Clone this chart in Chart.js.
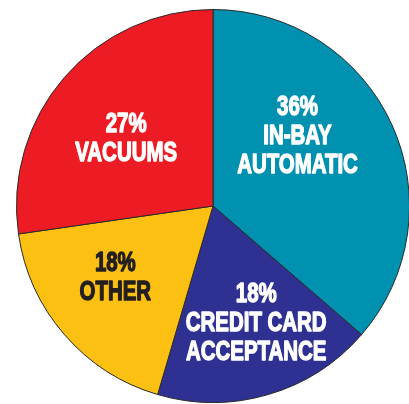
<!DOCTYPE html>
<html>
<head>
<meta charset="utf-8">
<script src="https://cdn.jsdelivr.net/npm/chart.js@4"></script>
<style>
  html, body { margin: 0; padding: 0; background: #fff; overflow: hidden; }
  body { width: 409px; height: 404px; position: relative; }
  #pieChart { position: absolute; left: 16px; top: 9px; }
</style>
</head>
<body>
<canvas id="pieChart" width="394" height="394"></canvas>
<script>
// share of revenue by service, percent
const categories = ['IN-BAY AUTOMATIC', 'CREDIT CARD ACCEPTANCE', 'OTHER', 'VACUUMS'];
const shares = [36, 18, 18, 27];
const sliceColors = ['#0090B0', '#2E3192', '#FCC012', '#ED1C24'];

// how each label is broken into lines, and its text colour
const labelLines = [['IN-BAY', 'AUTOMATIC'], ['CREDIT CARD', 'ACCEPTANCE'], ['OTHER'], ['VACUUMS']];
const labelColors = ['#ffffff', '#ffffff', '#231F20', '#ffffff'];
// label block centre, as a fraction of the radius from the pie centre
const labelSpots = [[0.43, -0.355], [0.22, 0.597], [-0.497, 0.367], [-0.442, -0.34]];

// squeeze the bold face sideways to get a condensed look
const squeeze = 0.73;

const sliceLabels = {
    id: 'sliceLabels',
    afterDatasetsDraw(chart) {
        const ctx = chart.ctx;
        const meta = chart.getDatasetMeta(0);
        meta.data.forEach(function (arc, i) {
            const r = arc.outerRadius;
            const cx = arc.x + labelSpots[i][0] * r;
            const cy = arc.y + labelSpots[i][1] * r;
            const lines = [shares[i] + '%'].concat(labelLines[i]);
            const lh = 29;
            const top = cy - (lines.length - 1) * lh / 2;
            ctx.save();
            ctx.translate(cx, 0);
            ctx.scale(squeeze, 1);
            ctx.textAlign = 'center';
            ctx.textBaseline = 'middle';
            ctx.font = 'bold 28px "Liberation Sans", Arial, sans-serif';
            ctx.fillStyle = labelColors[i];
            ctx.strokeStyle = labelColors[i];
            ctx.lineWidth = 1.4;
            ctx.lineJoin = 'round';
            lines.forEach(function (t, j) {
                ctx.fillText(t, 0, top + j * lh);
                ctx.strokeText(t, 0, top + j * lh);
            });
            ctx.restore();
        });
    }
};

new Chart(document.getElementById('pieChart').getContext('2d'), {
    type: 'pie',
    data: {
        labels: categories,
        datasets: [{
            data: shares,
            backgroundColor: sliceColors,
            borderColor: '#2a2a2a',
            borderWidth: 1,
            hoverOffset: 0
        }]
    },
    options: {
        responsive: false,
        animation: false,
        layout: { padding: 0 },
        plugins: {
            legend: { display: false },
            tooltip: { enabled: false }
        }
    },
    plugins: [sliceLabels]
});
</script>
</body>
</html>
